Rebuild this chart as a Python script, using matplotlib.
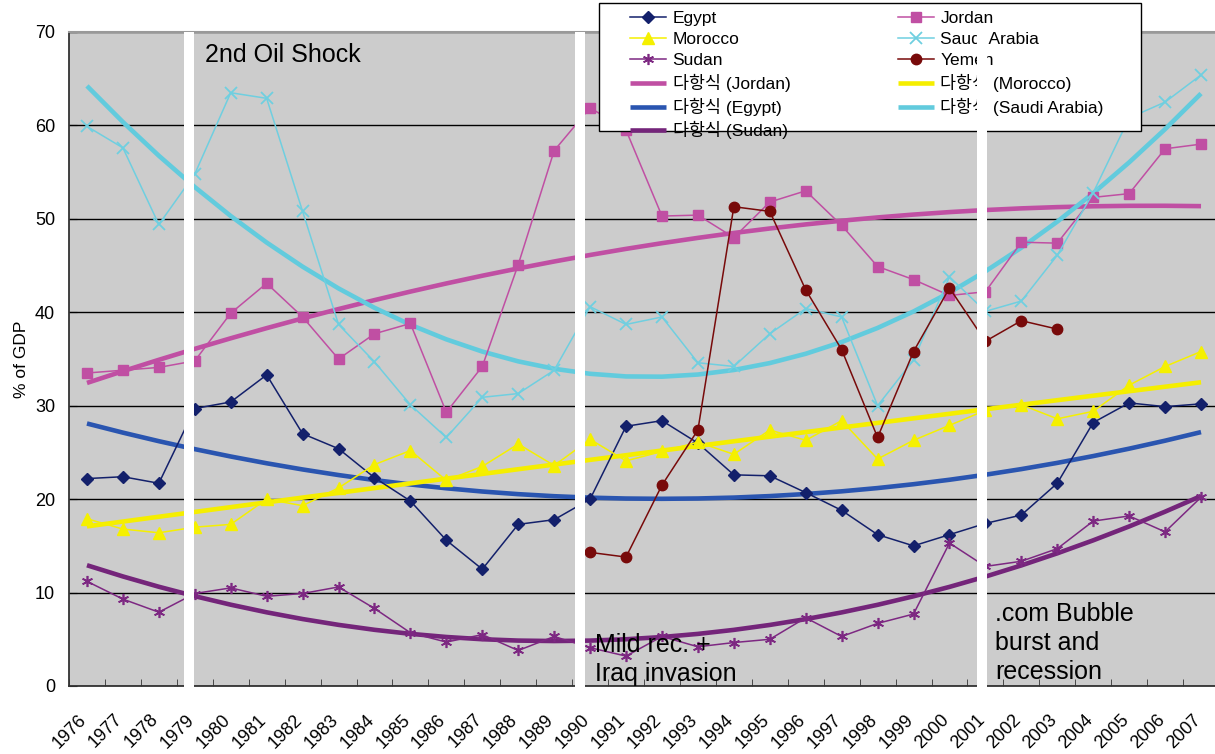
import numpy as np
import matplotlib
matplotlib.use('Agg')
import matplotlib.pyplot as plt
from matplotlib.patches import Rectangle
from matplotlib.transforms import ScaledTranslation

plt.rcParams['font.family'] = ['Liberation Sans', 'Noto Sans CJK KR']

# data (% of GDP)
years = list(range(1976, 2008))
egypt = [22.2, 22.4, 21.7, 29.7, 30.4, 33.3, 27.0, 25.4, 22.3, 19.8, 15.6, 12.5, 17.3, 17.8, 20.0,
         27.8, 28.4, 26.0, 22.6, 22.5, 20.7, 18.8, 16.2, 15.0, 16.2, 17.4, 18.3, 21.7, 28.2, 30.3, 29.9, 30.2]
morocco = [17.9, 16.8, 16.4, 17.0, 17.3, 20.0, 19.3, 21.2, 23.7, 25.2, 22.0, 23.5, 25.9, 23.6, 26.4,
           24.1, 25.1, 26.1, 24.8, 27.4, 26.3, 28.4, 24.3, 26.3, 27.9, 29.5, 30.1, 28.6, 29.4, 32.2, 34.2, 35.8]
sudan = [11.2, 9.3, 7.9, 9.9, 10.5, 9.6, 9.9, 10.6, 8.3, 5.7, 4.7, 5.5, 3.8, 5.3, 4.1,
         3.2, 5.3, 4.2, 4.65, 5.0, 7.3, 5.3, 6.7, 7.7, 15.3, 12.8, 13.35, 14.7, 17.65, 18.2, 16.5, 20.2]
jordan = [33.5, 33.8, 34.1, 34.8, 39.9, 43.1, 39.5, 35.0, 37.7, 38.8, 29.3, 34.2, 45.1, 57.3, 61.9,
          59.5, 50.3, 50.4, 48.0, 51.8, 53.0, 49.3, 44.9, 43.5, 41.8, 42.2, 47.5, 47.4, 52.3, 52.7, 57.5, 58.0]
saudi = [59.9, 57.6, 49.4, 54.8, 63.5, 62.9, 50.8, 38.7, 34.7, 30.1, 26.6, 30.9, 31.3, 33.8, 40.6,
         38.7, 39.5, 34.6, 34.2, 37.7, 40.4, 39.5, 30.0, 34.9, 43.8, 40.1, 41.2, 46.1, 52.8, 60.8, 62.5, 65.4]
yemen = [np.nan] * 14 + [14.3, 13.8, 21.5, 27.4, 51.3, 50.8, 42.4, 36.0, 26.6, 35.8, 42.6, 36.9, 39.1, 38.2] \
        + [np.nan] * 4

# white gaps between the pasted panels (category units)
gaps = [(2.71, 2.99), (13.58, 13.85), (24.77, 25.05)]

W, H = 1215, 754
fig = plt.figure(figsize=(W / 100, H / 100), dpi=100)
ax = fig.add_axes([69 / W, (H - 686) / H, (1219 - 69) / W, (686 - 32) / H])
ax.set_facecolor('#cccccc')

x = np.arange(len(years))


def trend(vals):  # 2nd order polynomial trendline like Excel
    return np.polyval(np.polyfit(x, vals, 2), x)


# trendlines (drawn below the series)
tJ, = ax.plot(x, trend(jordan), color='#c04fa3', lw=3.3, zorder=2, solid_capstyle='butt')
tE, = ax.plot(x, trend(egypt), color='#2a55b0', lw=3.3, zorder=2, solid_capstyle='butt')
tS, = ax.plot(x, trend(sudan), color='#74257a', lw=3.3, zorder=2, solid_capstyle='butt')
tM, = ax.plot(x, trend(morocco), color='#f5ee00', lw=3.3, zorder=2, solid_capstyle='butt')
tSA, = ax.plot(x, trend(saudi), color='#62cbdd', lw=3.3, zorder=2, solid_capstyle='butt')

# series
lE, = ax.plot(x, egypt, color='#13206b', lw=1.1, marker='D', ms=6, zorder=3)
lJ, = ax.plot(x, jordan, color='#c04fa3', lw=1.1, marker='s', ms=7, zorder=3)
lM, = ax.plot(x, morocco, color='#f5f000', lw=1.1, marker='^', ms=8, zorder=3)
lSA, = ax.plot(x, saudi, color='#6fcfe0', lw=1.1, marker='x', ms=8, mew=1.3, zorder=3)
lS, = ax.plot(x, sudan, color='#7d2882', lw=1.1, marker=(6, 2, 0), ms=8, mew=1.2, zorder=3)
lY, = ax.plot(x, yemen, color='#780a0a', lw=1.1, marker='o', ms=7.5, zorder=3)

ax.set_xlim(-0.5, len(years) - 0.5)
ax.set_ylim(0, 70)
ax.set_yticks(range(0, 71, 10))
ax.yaxis.grid(True, color='black', lw=1.0)
ax.set_axisbelow(True)
ax.tick_params(axis='y', direction='in', length=6, labelsize=13, pad=10)
ax.set_ylabel('% of GDP', fontsize=12.5, labelpad=4)

ax.set_xticks(x)
ax.set_xticklabels([str(y) for y in years], rotation=45, ha='right', va='top',
                   rotation_mode='anchor', fontsize=13)
ax.set_xticks(np.arange(-0.5, len(years)), minor=True)
ax.tick_params(axis='x', which='major', length=0, pad=18)
ax.tick_params(axis='x', which='minor', direction='in', length=5, color='#333333')
for lab in ax.get_xticklabels():
    lab.set_transform(lab.get_transform() + ScaledTranslation(-9 / 100, 0, fig.dpi_scale_trans))

for s in ['left', 'bottom']:
    ax.spines[s].set_color('#333333')
    ax.spines[s].set_linewidth(1.3)
ax.spines['top'].set_color('#999999')
ax.spines['top'].set_linewidth(1.5)
ax.spines['right'].set_visible(False)

# annotations
ax.text(3.28, 67.5, '2nd Oil Shock', fontsize=18, va='center', zorder=6)
ax.text(14.14, 2.8, 'Mild rec. +\nIraq invasion', fontsize=18, va='center', linespacing=1.25, zorder=6)
ax.text(25.27, 4.6, '.com Bubble\nburst and\nrecession', fontsize=18, va='center', linespacing=1.25, zorder=6)

# legend: frame drawn separately so the box can be placed like the original
ax.add_patch(Rectangle((599 / W, (H - 131) / H), 542 / W, 128 / H, transform=fig.transFigure,
                       facecolor='white', edgecolor='black', lw=1.0, zorder=7, clip_on=False))
handles = [lE, lM, lS, tJ, tE, tS, lJ, lSA, lY, tM, tSA]
labels = ['Egypt', 'Morocco', 'Sudan', '다항식 (Jordan)', '다항식 (Egypt)', '다항식 (Sudan)',
          'Jordan', 'Saudi Arabia', 'Yemen', '다항식 (Morocco)', '다항식 (Saudi Arabia)']
leg = ax.legend(handles, labels, ncol=2, loc='upper left', frameon=False,
                bbox_to_anchor=(630 / W, 1 - 11 / H), bbox_transform=fig.transFigure,
                borderaxespad=0, borderpad=0, fontsize=12.5,
                handlelength=2.1, handletextpad=0.35, labelspacing=0.33, columnspacing=6.2)
leg.set_zorder(8)

# white gaps on top of everything inside the plot
for a, b in gaps:
    ax.add_patch(Rectangle((a, -0.4), b - a, 70.4, facecolor='white', edgecolor='none',
                           zorder=20, clip_on=False))

fig.savefig('out.png', dpi=100)
